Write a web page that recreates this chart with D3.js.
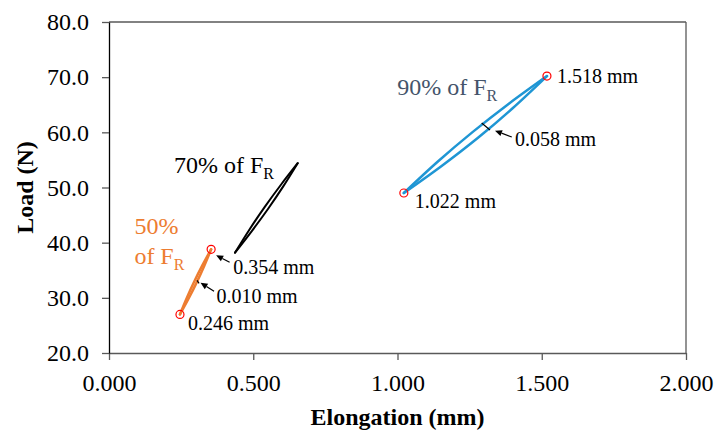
<!DOCTYPE html>
<html>
<head>
<meta charset="utf-8">
<script src="https://cdn.jsdelivr.net/npm/d3@7"></script>
<style>
  body { margin: 0; background: #fff; }
  text { font-family: "Liberation Serif", "Times New Roman", serif; }
</style>
</head>
<body>
<div id="chart"></div>
<script>
// hysteresis loops, [elongation mm, load N]
const loop50Up   = [[0.246, 27.0], [0.270, 30.02], [0.296, 33.0], [0.324, 35.92], [0.354, 38.8]];
const loop50Down = [[0.246, 27.0], [0.276, 29.88], [0.304, 32.8], [0.330, 35.78], [0.354, 38.8]];
const loop70Up   = [[0.437, 38.2], [0.487, 42.40], [0.540, 46.49], [0.596, 50.50], [0.654, 54.4]];
const loop70Down = [[0.437, 38.2], [0.495, 42.10], [0.551, 46.11], [0.604, 50.20], [0.654, 54.4]];
const loop90Up   = [[1.022, 49.0], [1.140, 54.71], [1.261, 60.08], [1.386, 65.19], [1.518, 70.2]];
const loop90Down = [[1.022, 49.0], [1.153, 53.90], [1.278, 58.97], [1.399, 64.37], [1.518, 70.2]];

const endPoints = [[0.246, 27.0], [0.354, 38.8], [1.022, 49.0], [1.518, 70.2]];
const endLabels = ["0.246 mm", "0.354 mm", "1.022 mm", "1.518 mm"];
const widthPoints = [[0.300, 32.9], [1.306, 61.1]];
const widthLabels = ["0.010 mm", "0.058 mm"];

const xTicks = [0, 0.5, 1, 1.5, 2];
const yTicks = [20, 30, 40, 50, 60, 70, 80];

const width = 716;
const height = 433;
const mLeft = 109, mRight = 686, mTop = 22, mBottom = 353;

const svg = d3.select("#chart").append("svg")
    .attr("width", width)
    .attr("height", height);

const x = d3.scaleLinear().domain([0, 2]).range([mLeft, mRight]);
const y = d3.scaleLinear().domain([20, 80]).range([mBottom, mTop]);

const grey = "#595959";

// frame top / right
svg.append("line").attr("x1", x(0)).attr("x2", x(2)).attr("y1", y(80)).attr("y2", y(80))
    .attr("stroke", grey).attr("stroke-width", 1.3);
svg.append("line").attr("x1", x(2)).attr("x2", x(2)).attr("y1", y(80)).attr("y2", y(20))
    .attr("stroke", grey).attr("stroke-width", 1.3);

// axes
const xAxis = svg.append("g")
    .attr("transform", `translate(0,${mBottom})`)
    .call(d3.axisBottom(x).tickValues(xTicks).tickSize(7).tickSizeOuter(0)
        .tickPadding(14).tickFormat(d3.format(".3f")));
xAxis.attr("font-size", 24).attr("font-family", "Liberation Serif");
xAxis.select(".domain").attr("stroke", grey).attr("stroke-width", 1.3);
xAxis.selectAll(".tick line").attr("stroke", grey).attr("stroke-width", 1.3);
xAxis.selectAll(".tick text").attr("fill", "#000");

const yAxis = svg.append("g")
    .attr("transform", `translate(${mLeft},0)`)
    .call(d3.axisLeft(y).tickValues(yTicks).tickSize(7).tickSizeOuter(0)
        .tickPadding(13).tickFormat(d3.format(".1f")));
yAxis.attr("font-size", 24).attr("font-family", "Liberation Serif");
yAxis.select(".domain").attr("stroke", "#000").attr("stroke-width", 1.3);
yAxis.selectAll(".tick line").attr("stroke", grey).attr("stroke-width", 1.3);
yAxis.selectAll(".tick text").attr("fill", "#000");

// axis titles
svg.append("text")
    .attr("x", (mLeft + mRight) / 2).attr("y", 425)
    .attr("text-anchor", "middle")
    .attr("font-size", 24).attr("font-weight", "bold")
    .text("Elongation (mm)");
svg.append("text")
    .attr("transform", `translate(33,${(mTop + mBottom) / 2}) rotate(-90)`)
    .attr("text-anchor", "middle")
    .attr("font-size", 24).attr("font-weight", "bold")
    .text("Load (N)");

// loops
const line = d3.line()
    .x(d => x(d[0]))
    .y(d => y(d[1]))
    .curve(d3.curveCatmullRom);

const loops = [
    { up: loop50Up, down: loop50Down, color: "#ED7D31", w: 2.5 },
    { up: loop70Up, down: loop70Down, color: "#000000", w: 2 },
    { up: loop90Up, down: loop90Down, color: "#1F96D4", w: 2.5 }
];
loops.forEach(l => {
    [l.up, l.down].forEach(b => {
        svg.append("path")
            .datum(b)
            .attr("d", line)
            .attr("fill", "none")
            .attr("stroke", l.color)
            .attr("stroke-width", l.w)
            .attr("stroke-linecap", "round");
    });
});

// red end markers
svg.selectAll("circle.end")
    .data(endPoints)
    .enter().append("circle")
    .attr("class", "end")
    .attr("cx", d => x(d[0]))
    .attr("cy", d => y(d[1]))
    .attr("r", 4)
    .attr("fill", "none")
    .attr("stroke", "#FF0000")
    .attr("stroke-width", 1.2);

// end labels (offsets in px from the marker)
const endOffsets = [[8, 16], [22, 25], [11, 15], [10, 7]];
svg.selectAll("text.end")
    .data(endPoints)
    .enter().append("text")
    .attr("class", "end")
    .attr("x", (d, i) => x(d[0]) + endOffsets[i][0])
    .attr("y", (d, i) => y(d[1]) + endOffsets[i][1])
    .attr("font-size", 20)
    .text((d, i) => endLabels[i]);

function arrow(x1, y1, x2, y2) {
    // tail (x1,y1) -> head (x2,y2)
    const a = Math.atan2(y2 - y1, x2 - x1);
    const len = 7, half = 3.2;
    const bx = x2 - len * Math.cos(a), by = y2 - len * Math.sin(a);
    svg.append("line")
        .attr("x1", x1).attr("y1", y1).attr("x2", bx).attr("y2", by)
        .attr("stroke", "#000").attr("stroke-width", 1.2);
    svg.append("path")
        .attr("d", `M${x2},${y2}L${bx - half * Math.sin(a)},${by + half * Math.cos(a)}L${bx + half * Math.sin(a)},${by - half * Math.cos(a)}Z`)
        .attr("fill", "#000");
}

// arrow to upper orange marker
const p354 = endPoints[1];
arrow(x(p354[0]) + 18.5, y(p354[1]) + 13, x(p354[0]) + 5, y(p354[1]) + 6);

// loop width marks
const widthMarks = [
    { tick: [[1.5, -1.5], [3.5, 1.5]], tail: [18.5, 9.5], head: [5, 1], text: [21, 21] },
    { tick: [[-4.1, -3.3], [4.2, 3.7]], tail: [26, 10.7], head: [9.2, 4.4], text: [29.2, 19.7] }
];
widthPoints.forEach((p, i) => {
    const px = x(p[0]), py = y(p[1]), m = widthMarks[i];
    svg.append("line")
        .attr("x1", px + m.tick[0][0]).attr("y1", py + m.tick[0][1])
        .attr("x2", px + m.tick[1][0]).attr("y2", py + m.tick[1][1])
        .attr("stroke", "#000").attr("stroke-width", 1.2);
    arrow(px + m.tail[0], py + m.tail[1], px + m.head[0], py + m.head[1]);
    svg.append("text")
        .attr("x", px + m.text[0]).attr("y", py + m.text[1])
        .attr("font-size", 20)
        .text(widthLabels[i]);
});

// series labels
function frLabel(tx, ty, pre, color) {
    const t = svg.append("text")
        .attr("x", tx).attr("y", ty)
        .attr("font-size", 24)
        .attr("fill", color);
    t.append("tspan").text(pre + "F");
    t.append("tspan").attr("font-size", 16).attr("dy", 6).text("R");
}
frLabel(x(0.225), y(52.68), "70% of ", "#000");
frLabel(x(0.999), y(66.76), "90% of ", "#44546A");
svg.append("text")
    .attr("x", x(0.088)).attr("y", y(41.57))
    .attr("font-size", 24).attr("fill", "#ED7D31")
    .text("50%");
frLabel(x(0.088), y(41.57) + 30, "of ", "#ED7D31");
</script>
</body>
</html>
